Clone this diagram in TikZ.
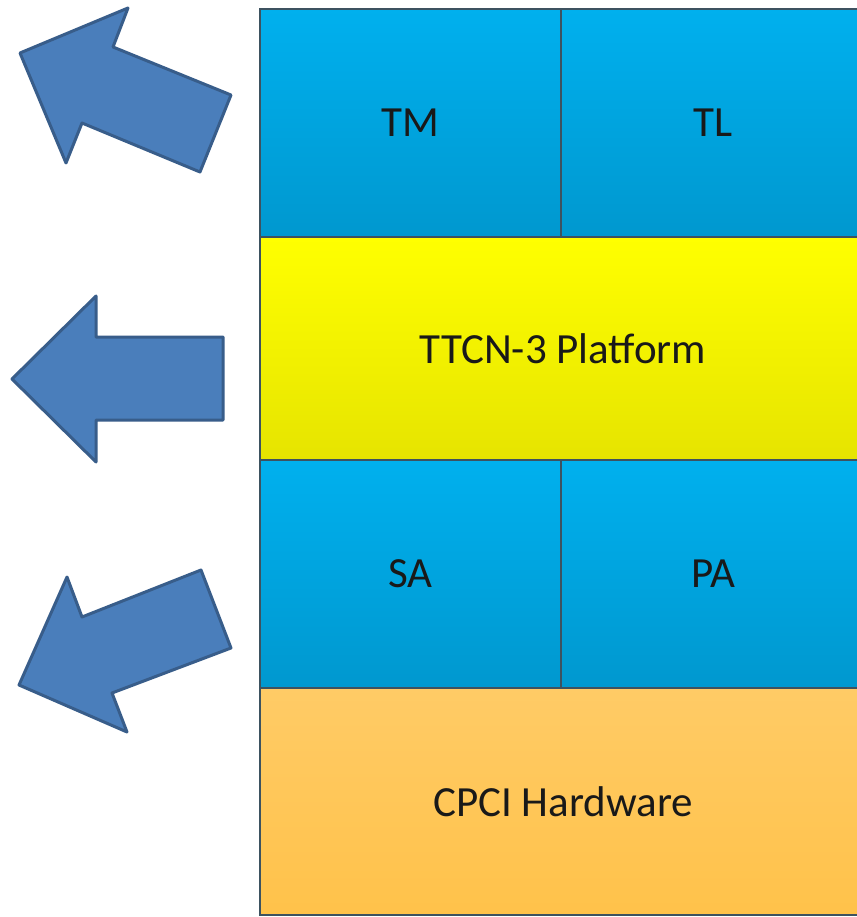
\documentclass[tikz,border=0pt]{standalone}
\usepackage{fontspec}
\setmainfont{Carlito}
\begin{document}
\begin{tikzpicture}[x=1pt,y=-1pt,
  blk/.style={draw=boxline, line width=1.3pt, inner sep=0pt, outer sep=0pt,
    font=\fontsize{43}{50}\selectfont, text=black!90},
  bluebox/.style={blk, top color=bluetop, bottom color=bluebot},
  yelbox/.style={blk, top color=yeltop, bottom color=yelbot},
  orabox/.style={blk, top color=oratop, bottom color=orabot},
  bigarrow/.style={fill=arrowfill, draw=arrowline, line width=3pt, line join=round}
]
\definecolor{boxline}{HTML}{3D5260}
\definecolor{bluetop}{HTML}{00B0EE}
\definecolor{bluebot}{HTML}{0098CF}
\definecolor{yeltop}{HTML}{FFFF00}
\definecolor{yelbot}{HTML}{E6E400}
\definecolor{oratop}{HTML}{FFCB66}
\definecolor{orabot}{HTML}{FFC24A}
\definecolor{arrowfill}{HTML}{4A7EBB}
\definecolor{arrowline}{HTML}{385D8A}
\useasboundingbox (0,0) rectangle (856,917);
\fill[white] (0,0) rectangle (856,917);
% boxes
\node[bluebox, minimum width=301pt, minimum height=228pt] (tm) at (410.5,123) {TM};
\node[bluebox, minimum width=305pt, minimum height=228pt] (tl) at (713.5,123) {TL};
\node[yelbox, minimum width=606pt, minimum height=223pt] (ttcn) at (563,348.5) {TTCN-3 Platform};
\node[bluebox, minimum width=301pt, minimum height=228pt] (sa) at (410.5,574) {SA};
\node[bluebox, minimum width=305pt, minimum height=228pt] (pa) at (713.5,574) {PA};
\node[orabox, minimum width=606pt, minimum height=227pt] (hw) at (563,801.5) {CPCI Hardware};
% arrows
\draw[bigarrow] (20,53) -- (128,8) -- (113,47) -- (231,95) -- (200,172) -- (82,123) -- (66,163) -- cycle;
\draw[bigarrow] (12,379) -- (96,296) -- (96,337) -- (223,337) -- (223,420) -- (96,420) -- (96,462) -- cycle;
\draw[bigarrow] (67,577) -- (82,617) -- (201,570) -- (231,648) -- (112,693) -- (127,732) -- (19,685) -- cycle;
\end{tikzpicture}
\end{document}
